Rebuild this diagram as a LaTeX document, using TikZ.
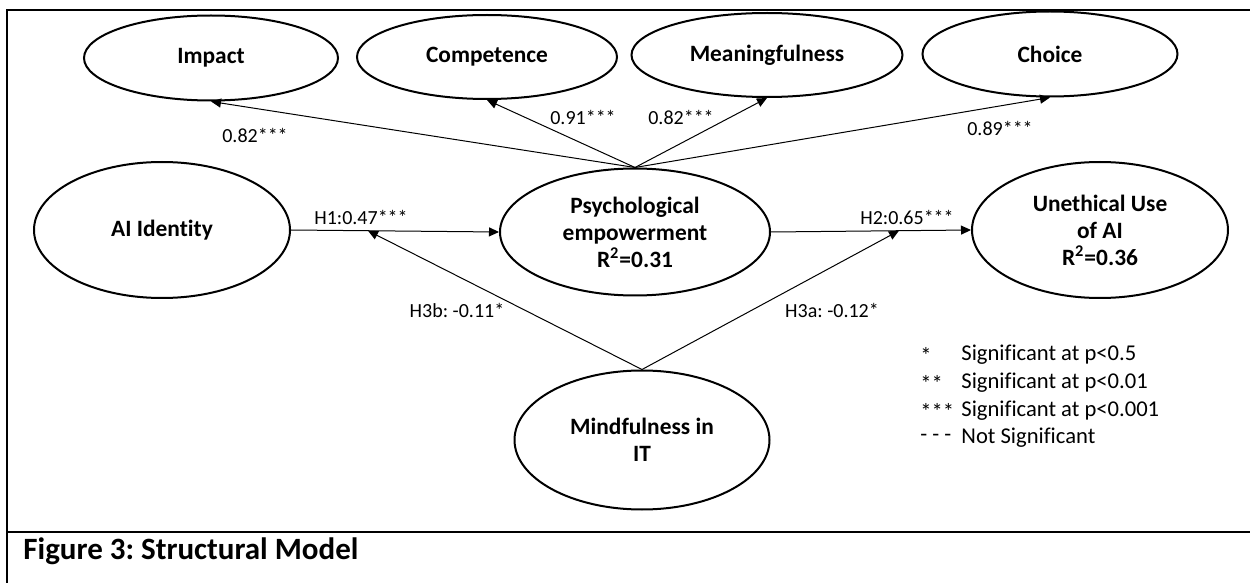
\documentclass[tikz,border=0pt]{standalone}
\usepackage{fontspec}
\setmainfont[Ligatures=NoCommon]{Carlito}
\frenchspacing
\usepackage{tikz}
\usetikzlibrary{arrows.meta,calc,positioning,shapes.geometric}
\tikzset{
  construct/.style={ellipse,draw,line width=1pt,inner sep=0pt,align=center,
    font=\fontsize{11.7}{13.5}\selectfont\bfseries},
  path/.style={-{Triangle[length=5pt,width=4.5pt]},line width=0.5pt},
  coef/.style={font=\fontsize{10}{12}\selectfont,inner sep=1pt},
  legend/.style={font=\fontsize{11.3}{13}\selectfont,anchor=west,inner sep=0pt},
  frame/.style={line width=1pt}
}

\begin{document}
\begin{tikzpicture}[x=0.5pt,y=-0.5pt]
  \useasboundingbox (0,0) rectangle (1250,583);
  % frame and caption
  \draw[frame] (1250,10) -- (7,10) -- (7,583);
  \draw[frame] (7,532) -- (1250,532);
  \node[anchor=west,inner sep=0pt,font=\fontsize{15.5}{18}\selectfont\bfseries] (cap) at (23,551)
    {Figure 3: Structural Model};

  % dimensions
  \node[construct,minimum width=127pt,minimum height=42.5pt] (imp) at (211,58) {Impact};
  \node[construct,minimum width=130pt,minimum height=42pt] (comp) at (487,57) {Competence};
  \node[construct,minimum width=135.5pt,minimum height=42pt] (mean) at (767,55) {Meaningfulness};
  \node[construct,minimum width=127.5pt,minimum height=42.5pt] (cho) at (1050,54) {Choice};

  % constructs
  \node[construct,minimum width=128pt,minimum height=68pt] (ai) at (162,230) {AI Identity};
  \node[construct,minimum width=135pt,minimum height=63.5pt] (psy) at (635,232)
    {Psychological\\empowerment\\R\textsuperscript{2}=0.31};
  \node[construct,minimum width=128pt,minimum height=68pt] (une) at (1100,230)
    {Unethical Use\\of AI\\R\textsuperscript{2}=0.36};
  \node[construct,minimum width=127.5pt,minimum height=69.5pt] (mind) at (642,440)
    {Mindfulness in\\IT};

  % loadings
  \foreach \N in {imp,comp,mean,cho} \draw[path] (psy.north) -- (\N.south);
  \node[coef] (limp) at (255,135) {0.82***};
  \node[coef] (lcomp) at (583,117) {0.91***};
  \node[coef] (lmean) at (681,117) {0.82***};
  \node[coef] (lcho) at (1000,128) {0.89***};

  % hypotheses
  \draw[path] (ai.east) -- (psy.west);
  \draw[path] (psy.east) -- (une.west);
  \coordinate (h3b) at ($(ai.east)!0.37!(psy.west)$);
  \coordinate (h3a) at ($(psy.east)!0.64!(une.west)$);
  \draw[path] (mind.north) -- (h3b);
  \draw[path] (mind.north) -- (h3a);
  \node[coef] (lh1) at (361,217) {H1:0.47***};
  \node[coef] (lh2) at (907,217) {H2:0.65***};
  \node[coef] (lh3b) at (457,310) {H3b: -0.11*};
  \node[coef] (lh3a) at (832,310) {H3a: -0.12*};

  % legend
  \foreach \Y/\S/\T [count=\i] in {355/{*}/{Significant at p<0.5},
      383/{**}/{Significant at p<0.01},
      411/{***}/{Significant at p<0.001},
      438/{- - -}/{Not Significant}}{
    \node[legend] (sym\i) at (920,\Y) {\S};
    \node[legend] (txt\i) at (961,\Y) {\T};
  }
\end{tikzpicture}
\end{document}
